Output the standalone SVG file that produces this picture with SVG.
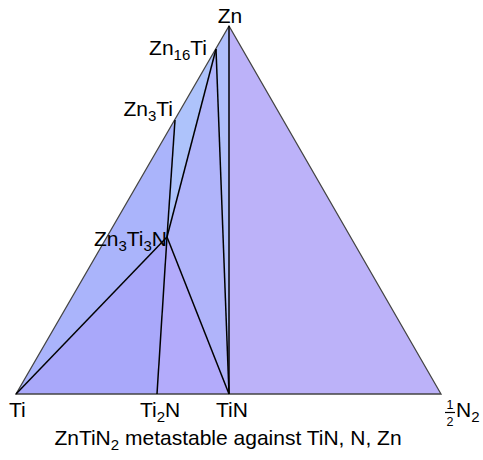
<svg xmlns="http://www.w3.org/2000/svg" width="483" height="460" viewBox="0 0 483 460">
<style>
.t{font-family:"Liberation Sans",Arial,sans-serif;font-size:21px;fill:#000}
.s{font-size:15px}
.f{font-size:12.5px}
.e{stroke:#444;stroke-width:1.3;fill:none}
.l{stroke:#000;stroke-width:1.5;fill:none}
</style>
<rect width="483" height="460" fill="#fff"/>
<g id="regions" stroke="none">
<polygon points="16,394 175,120 167,237" fill="#aab4fb"/>
<polygon points="175,120 216,49 167,237" fill="#aec3fb"/>
<polygon points="216,49 229,394 167,237" fill="#b0b4fa"/>
<polygon points="216,49 229,26 229,394" fill="#b0bffa"/>
<polygon points="16,394 167,237 157,394" fill="#a9a8fa"/>
<polygon points="157,394 167,237 229,394" fill="#b3abfb"/>
<polygon points="229,26 441,394 229,394" fill="#bcb2f9"/>
</g>
<g id="connectors">
<polygon class="e" points="16,394 229,26 441,394"/>
<line class="l" x1="229" y1="26" x2="229" y2="394"/>
<line class="l" x1="216" y1="49" x2="229" y2="394"/>
<line class="l" x1="216" y1="49" x2="167" y2="237"/>
<line class="l" x1="175" y1="120" x2="167" y2="237"/>
<line class="l" x1="167" y1="237" x2="16" y2="394"/>
<line class="l" x1="167" y1="237" x2="157" y2="394"/>
<line class="l" x1="167" y1="237" x2="229" y2="394"/>
</g>
<g id="Zn"><text class="t" x="230" y="23" text-anchor="middle">Zn</text></g>
<g id="Zn16Ti"><text class="t" x="207" y="55" text-anchor="end">Zn<tspan class="s" dy="5">16</tspan><tspan dy="-5">Ti</tspan></text></g>
<g id="Zn3Ti"><text class="t" x="173" y="116" text-anchor="end">Zn<tspan class="s" dy="5">3</tspan><tspan dy="-5">Ti</tspan></text></g>
<g id="Zn3Ti3N"><text class="t" x="167" y="246" text-anchor="end">Zn<tspan class="s" dy="5">3</tspan><tspan dy="-5">Ti</tspan><tspan class="s" dy="5">3</tspan><tspan dy="-5">N</tspan></text></g>
<g id="Ti"><text class="t" x="9" y="417">Ti</text></g>
<g id="Ti2N"><text class="t" x="140" y="417">Ti<tspan class="s" dy="5">2</tspan><tspan dy="-5">N</tspan></text></g>
<g id="TiN"><text class="t" x="232" y="417" text-anchor="middle">TiN</text></g>
<g id="N2">
<text class="t f" x="450" y="409" text-anchor="middle">1</text>
<line x1="445" y1="412.5" x2="455" y2="412.5" stroke="#000" stroke-width="1.2"/>
<text class="t f" x="450" y="426" text-anchor="middle">2</text>
<text class="t" x="456" y="417">N<tspan class="s" dy="5">2</tspan></text>
</g>
<g id="caption"><text class="t" x="228" y="445" text-anchor="middle">ZnTiN<tspan class="s" dy="5">2</tspan><tspan dy="-5"> metastable against TiN, N, Zn</tspan></text></g>
</svg>
